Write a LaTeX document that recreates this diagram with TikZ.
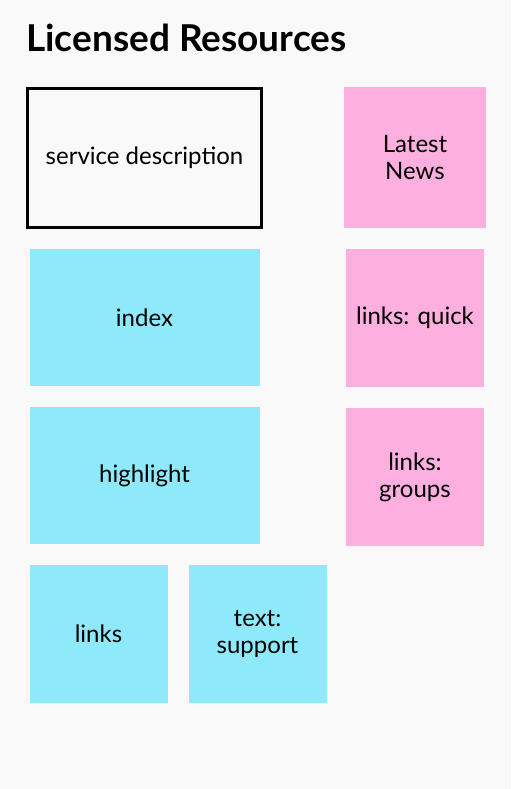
\documentclass[tikz,border=0pt]{standalone}
\usepackage{fontspec}
\setmainfont{Lato}
\usepackage{xcolor}
\usepackage{tikz}
\usetikzlibrary{positioning}

\begin{document}
\begin{tikzpicture}[x=1pt, y=-1pt,
    node distance=20pt,
    tile/.style={
      inner sep=0pt, outer sep=0pt, align=center,
      font=\fontsize{24}{27}\selectfont
    },
    cyantile/.style={tile, fill={rgb,255:red,142;green,234;blue,250}},
    pinktile/.style={tile, fill={rgb,255:red,253;green,176;blue,224}},
    wide/.style={minimum width=230pt, minimum height=137pt},
    small/.style={minimum width=138pt, minimum height=138pt}
  ]

  % ===== Page background =====
  \fill[fill={rgb,255:red,249;green,249;blue,249}] (0,0) rectangle (511,789);
  \useasboundingbox (0,0) rectangle (511,789);

  % Title
  \node[anchor=base west, inner sep=0pt, font=\fontsize{37}{40}\selectfont\bfseries]
    (title) at (26,52) {Licensed Resources};

  % ===== Left column =====
  \node[tile, draw, line width=3pt, outer sep=1.5pt, fill=none,
        minimum width=234pt, minimum height=139pt, anchor=north west]
    (svc) at (26,87) {service description};

  \node[cyantile, wide, below=20pt of svc] (index) {index};
  \node[cyantile, wide, below=21pt of index] (highlight) {highlight};

  % Bottom pair
  \node[cyantile, small, below right=21pt and 0pt of highlight.south west] (links) {links};
  \node[cyantile, small, right=21pt of links] (support) {text:\\support};

  % ===== Right column =====
  \node[pinktile, minimum width=142pt, minimum height=141pt, anchor=north west]
    (news) at (344,87) {Latest\\News};
  \node[pinktile, small, below=21pt of news] (quick) {links: quick};
  \node[pinktile, small, below=21pt of quick] (groups) {links:\\groups};

\end{tikzpicture}
\end{document}
